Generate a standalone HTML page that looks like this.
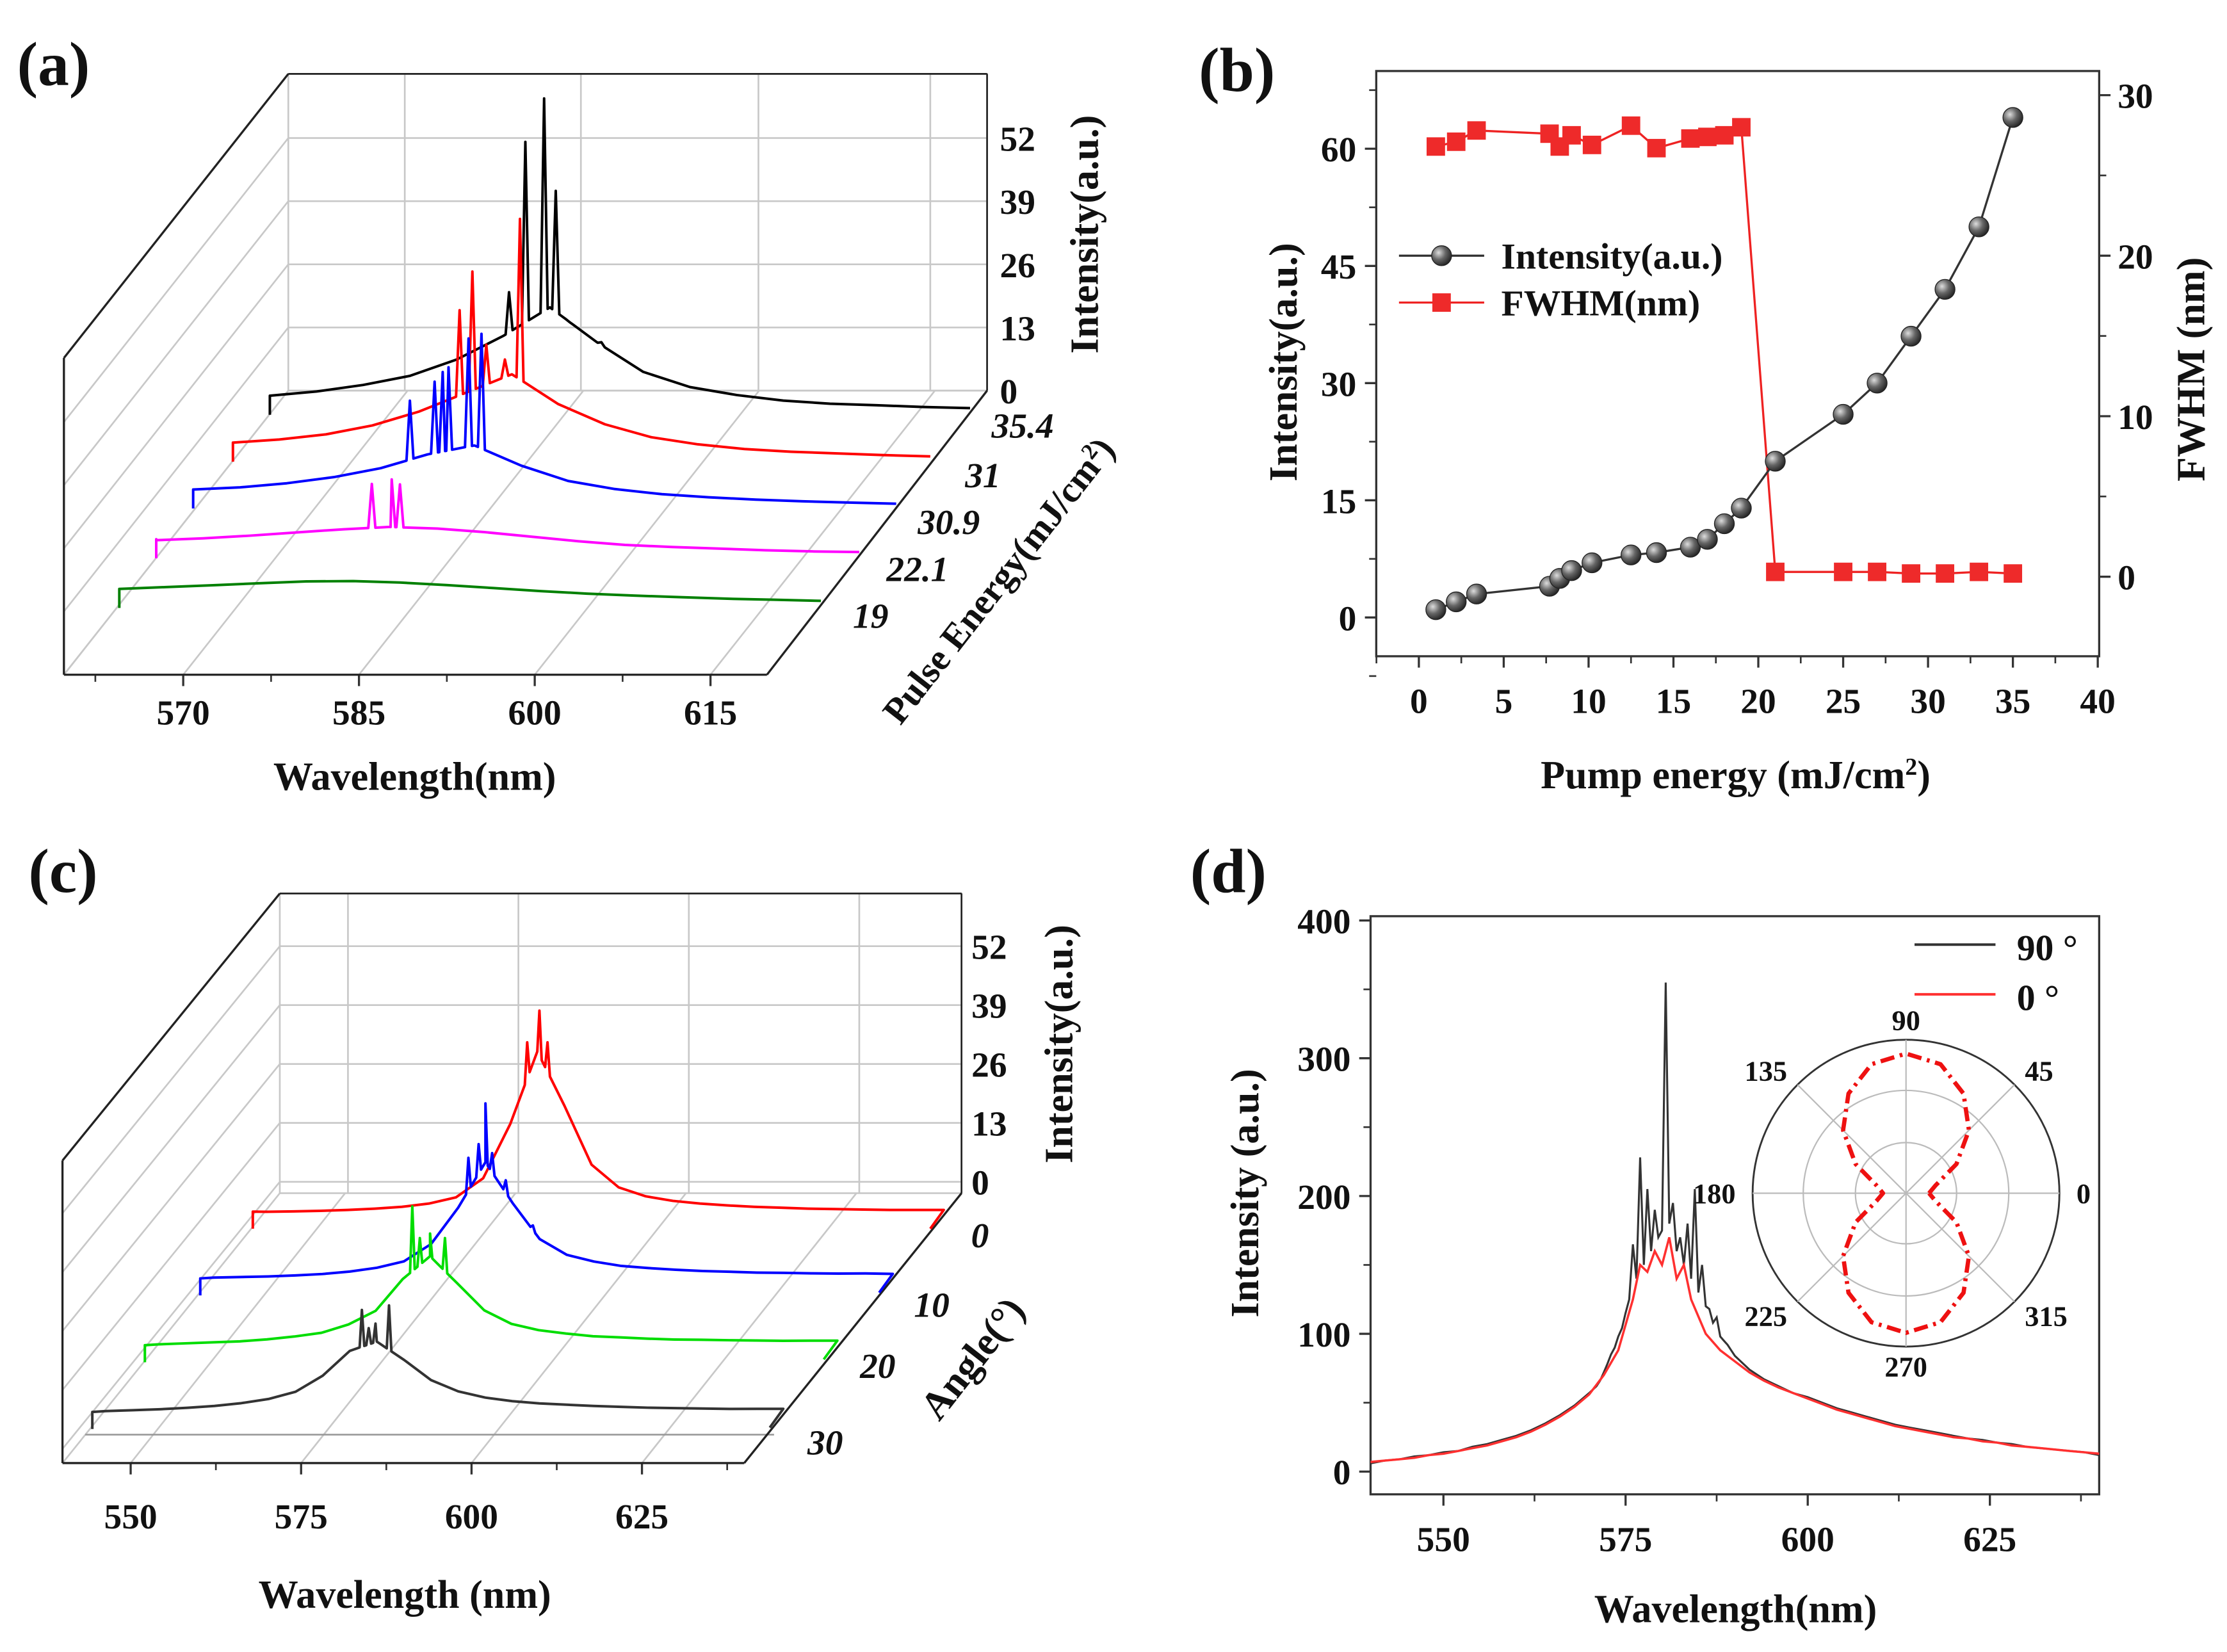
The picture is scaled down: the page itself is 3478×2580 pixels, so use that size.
<!DOCTYPE html>
<html><head><meta charset="utf-8"><style>
html,body{margin:0;padding:0;background:#fff}
svg{display:block}
text{font-family:"Liberation Serif",serif;font-weight:bold;fill:#111}
</style></head><body>
<svg id="fig" xmlns="http://www.w3.org/2000/svg" width="3478" height="2580" viewBox="0 0 1568 1163" preserveAspectRatio="none">
<defs>
<radialGradient id="ball" cx="0.35" cy="0.35" r="0.7"><stop offset="0" stop-color="#ddd"/><stop offset="0.5" stop-color="#666"/><stop offset="1" stop-color="#222"/></radialGradient>
</defs>
<rect x="0" y="0" width="1568" height="1163" fill="#fff"/>
<text x="12" y="60" font-size="44">(a)</text>
<text x="844" y="64" font-size="44">(b)</text>
<text x="20" y="628" font-size="44">(c)</text>
<text x="838" y="628" font-size="44">(d)</text>
<g id="pa"></g>
<g id="pb"></g>
<g id="pc"></g>
<g id="pd"></g>
</svg>
<script>
// ---------- Panel (a) data ----------
const aGridW=[560,564,568,572,576,580,584,588,592,596,600,604,608,612,616,620];
const aEnergyLabels=["35.4","31","30.9","22.1","19"];
const aEnvBlack=[1,2,3.5,5.5,9,14,20,13,7,4,2.5,1.5,1,0.8,0.6,0.5];
const aEnvRed=[1,1.8,3,5,8,12,16,10,6,3.5,2.2,1.4,1,0.8,0.6,0.5];
const aEnvBlue=[1,1.6,2.6,4,6,9,11,7,4,2.5,1.6,1.1,0.8,0.6,0.5,0.4];
const aEnvMag=[0.8,1.3,2,2.8,3.6,4.2,4,3.4,2.6,1.8,1.2,0.9,0.7,0.5,0.4,0.4];
const aEnvGreen=[1,1.5,2,2.5,3,3.2,3,2.6,2.1,1.6,1.2,0.9,0.7,0.5,0.4,0.3];
const aSpkBlackW=[580.5,581.9,583.5,584.5,585.7,588.4];
const aSpkBlackI=[23,54,63,44,17,13];
const aSpkRedW=[579.5,580.6,581.8,583.4,584.7];
const aSpkRedI=[29,37,22,19,48];
const aSpkBlueW=[578.5,580.6,581.3,581.8,583.5,584.6];
const aSpkBlueI=[20,24,26,27,33,34];
const aSpkMagW=[578.4,580.1,580.8];
const aSpkMagI=[13,14,13];
const aZTicks=[0,13,26,39,52];
const aXTicks=[570,585,600,615];
// ---------- Panel (b) data ----------
const bIntX=[1,2.2,3.4,7.7,8.3,9,10.2,12.5,14,16,17,18,19,21,25,27,29,31,33,35];
const bIntY=[1,2,3,4,5,6,7,8,8.3,9,10,12,14,20,26,30,36,42,50,64];
const bFwX=[1,2.2,3.4,7.7,8.3,9,10.2,12.5,14,16,17,18,19,21,25,27,29,31,33,35];
const bFwY=[26.8,27.1,27.8,27.6,26.8,27.5,26.9,28.1,26.7,27.3,27.4,27.5,28.0,0.3,0.3,0.3,0.2,0.2,0.3,0.2];
const bXTicks=[0,5,10,15,20,25,30,35,40];
const bLTicks=[0,15,30,45,60];
const bRTicks=[0,10,20,30];
// ---------- Panel (c) data ----------
const cGridW=[542,546,550,554,558,562,566,570,574,578,582,586,590,594,598,602,606,610,614,618,622,626,630,634,638,642];
const cAngleLabels=["0","10","20","30"];
const cEnvRed=[0.6,0.7,0.8,1,1.3,1.7,2.4,3.8,8,20,36,24,11,6,4,3,2.4,2,1.7,1.5,1.3,1.2,1.1,1,1,1];
const cEnvBlue=[0.8,0.9,1,1.2,1.5,2,2.8,4.2,8,16,26,17,9,5.5,4,3,2.5,2.1,1.8,1.6,1.4,1.3,1.2,1.1,1.1,1];
const cEnvGreen=[0.8,1,1.2,1.4,1.8,2.4,3.2,5,8,15,20,14,8,5,3.6,2.8,2.2,1.9,1.6,1.4,1.3,1.2,1.1,1,1,1];
const cEnvBlack=[0.8,1,1.2,1.5,1.9,2.5,3.4,5,8.5,14,16,12,7.5,5,3.6,2.8,2.3,2,1.7,1.5,1.3,1.2,1.1,1,1,1];
const cSpkRedW=[580.5,582.3,583.5];
const cSpkRedI=[38,45,38];
const cSpkBlueW=[579.5,581,582,583,585,589];
const cSpkBlueI=[27,30,39,28,22,12];
const cSpkGreenW=[579.4,580.5,582,584.2];
const cSpkGreenI=[31,24,25,24];
const cSpkBlackW=[579.8,580.8,581.8,583.8];
const cSpkBlackI=[23,19,20,24];
const cZTicks=[0,13,26,39,52];
const cXTicks=[550,575,600,625];
// ---------- Panel (d) data ----------
const dRedW=[540,542,544,546,548,550,552,554,556,558,560,562,564,566,568,570,572,574,576,577,578,579,580,581,582,583,584,586,588,590,592,594,596,598,600,602,604,606,608,610,612,614,616,618,620,622,624,626,628,630,632,634,636,638,640];
const dRedI=[7,8,9,10,12,13,15,17,19,22,25,29,34,40,47,56,70,88,125,150,145,160,150,170,140,150,125,100,88,80,72,66,61,57,53,49,45,42,39,36,33,31,29,27,25,24,22,21,19,18,17,16,15,14,13];
const dBlkW=[540,542,544,546,548,550,552,554,556,558,560,562,564,566,568,570,571,571.5,572,572.5,573,573.5,574,574.5,575,575.5,576,576.5,577,577.5,578,578.5,579,579.5,580,580.5,581,581.5,582,582.5,583,583.5,584,584.5,585,585.5,586,586.5,587,587.5,588,588.5,589,589.5,590,592,594,596,598,600,602,604,606,608,610,612,614,616,618,620,622,624,626,628,630,632,634,636,638,640];
const dBlkI=[6,8,9,11,12,14,15,18,20,23,26,30,35,41,48,57,62,66,72,78,85,90,98,104,115,125,165,140,228,150,205,160,190,170,175,355,180,195,160,170,150,180,140,205,130,150,120,118,108,112,98,95,92,88,84,74,67,62,57,54,50,46,43,40,37,34,32,30,28,26,24,23,21,20,18,17,16,15,14,12];
const dXTicks=[550,575,600,625];
const dYTicks=[0,100,200,300,400];
const dPolarAng=[0,15,30,45,60,75,90,105,120,135,150,165,180,195,210,225,240,255,270,285,300,315,330,345,360];
const dPolarR=[0.15,0.2,0.38,0.58,0.75,0.87,0.91,0.87,0.75,0.58,0.38,0.2,0.15,0.2,0.38,0.58,0.75,0.87,0.91,0.87,0.75,0.58,0.38,0.2,0.15];
const dPolarLabels=[0,45,90,135,180,225,270,315];

const NS="http://www.w3.org/2000/svg";
const TK=25, TT=28;
function mk(tag,attrs,parent,name){
  const el=document.createElementNS(NS,tag);
  for(const k in attrs) el.setAttribute(k,attrs[k]);
  
  
  parent.appendChild(el);
  return el;
}
function txt(s,x,y,size,parent,name,anchor,extra){
  const a=Object.assign({x:x,y:y,'font-size':size,'text-anchor':anchor||'start'},extra||{});
  const t=mk('text',a,parent,name);
  t.textContent=s;
  return t;
}
function line(x1,y1,x2,y2,stroke,w,parent,name){
  return mk('line',{x1:x1,y1:y1,x2:x2,y2:y2,stroke:stroke,'stroke-width':w},parent,name);
}
function interp(gw,gv,w){
  if(w<=gw[0])return gv[0];
  for(let i=1;i<gw.length;i++){ if(w<=gw[i]){const t=(w-gw[i-1])/(gw[i]-gw[i-1]);return gv[i-1]+t*(gv[i]-gv[i-1]);} }
  return gv[gv.length-1];
}
function tracePts(gw,env,sw,si,half){
  let pts=gw.map((w,i)=>[w,env[i]]);
  for(let i=0;i<sw.length;i++){
    pts.push([sw[i]-half,interp(gw,env,sw[i]-half)]);
    pts.push([sw[i],si[i]]);
    pts.push([sw[i]+half,interp(gw,env,sw[i]+half)]);
  }
  pts.sort((a,b)=>a[0]-b[0]);
  return pts;
}

// ================= Panel (a) =================
(function(){
  const g=document.getElementById('pa');
  const G='#c8c8c8';
  mk('rect',{x:203,y:52,width:492,height:223,fill:'none',stroke:G,'stroke-width':1.2},g,'back-wall');
  const zy=v=>275-v*3.42;
  aZTicks.forEach(v=>{
    line(203,zy(v),695,zy(v),G,1.2,g,'back-gridline');
    line(203,zy(v),45,zy(v)+200,G,1.2,g,'side-gridline');
    txt(String(v),704,zy(v)+9,TK,g,'z-tick-label');
  });
  [285,409,534,655].forEach(x=>line(x,52,x,275,G,1.2,g,'back-vertical-gridline'));
  const fx=w=>129+(w-570)*8.25;
  aXTicks.forEach(w=>{
    line(fx(w),475,fx(w)+158,275,G,1.2,g,'floor-gridline');
    line(fx(w),475,fx(w),483,'#333',1.5,g,'x-tick');
    txt(String(w),fx(w),510,TK,g,'x-tick-label','middle');
  });
  [577.5,592.5,607.5,562.5].forEach(w=>line(fx(w),475,fx(w),480,'#333',1.2,g,'x-minor-tick'));
  line(45,475,203,275,G,1.2,g,'floor-left-edge');
  line(203,52,45,252,'#222',1.5,g,'wall-top-edge');
  line(45,252,45,475,'#222',1.5,g,'front-left-edge');
  line(45,475,540,475,'#222',1.5,g,'front-bottom-axis');
  line(540,475,695,275,'#222',1.5,g,'depth-axis');
  line(203,52,695,52,'#222',1.2,g,'back-top-edge');
  line(695,52,695,275,'#222',1.2,g,'z-axis-line');
  const traces=[
    {x0:190,y0:282,x1:683,y1:289,env:aEnvBlack,sw:aSpkBlackW,si:aSpkBlackI,c:'#000',n:'trace-35-4'},
    {x0:164,y0:315,x1:655,y1:323,env:aEnvRed,sw:aSpkRedW,si:aSpkRedI,c:'#ff0000',n:'trace-31'},
    {x0:136,y0:348,x1:631,y1:356,env:aEnvBlue,sw:aSpkBlueW,si:aSpkBlueI,c:'#0000ff',n:'trace-30-9'},
    {x0:110,y0:383,x1:605,y1:390,env:aEnvMag,sw:aSpkMagW,si:aSpkMagI,c:'#ff00ff',n:'trace-22-1'},
    {x0:84,y0:418,x1:578,y1:424,env:aEnvGreen,sw:[],si:[],c:'#008000',n:'trace-19'}
  ];
  traces.forEach(t=>{
    const pts=tracePts(aGridW,t.env,t.sw,t.si,0.3);
    const sx=(t.x1-t.x0)/60, sy=(t.y1-t.y0)/60;
    const d=pts.map((p,i)=>(i?'L':'M')+(t.x0+(p[0]-560)*sx).toFixed(1)+','+(t.y0+(p[0]-560)*sy-p[1]*3.42).toFixed(1)).join(' ');
    mk('path',{d:'M'+t.x0+','+(t.y0+10)+' L'+t.x0+','+(t.y0-3.4)+' '+d.replace(/^M/,'L'),fill:'none',stroke:t.c,'stroke-width':1.8,'stroke-linejoin':'round'},g,t.n);
  });
  const el=[[720,308],[692,343],[668,376],[646,409],[613,442]];
  aEnergyLabels.forEach((s,i)=>txt(s,el[i][0],el[i][1],TK,g,'energy-tick-label','middle',{'font-style':'italic'}));
  txt('Intensity(a.u.)',0,0,TT,g,'z-axis-title','middle',{transform:'translate(773,165) rotate(-90)'});
  txt('Wavelength(nm)',292,556,TT,g,'x-axis-title','middle');
  const pe=txt('Pulse Energy(mJ/cm',0,0,26,g,'depth-axis-title','middle',{transform:'translate(710,414) rotate(-52)'});
  const sup=document.createElementNS(NS,'tspan');sup.setAttribute('baseline-shift','super');sup.setAttribute('font-size','16');sup.textContent='2';pe.appendChild(sup);
  const cl=document.createElementNS(NS,'tspan');cl.textContent=')';pe.appendChild(cl);
})();

// ================= Panel (b) =================
(function(){
  const g=document.getElementById('pb');
  const bx=v=>999+v*11.95, byL=v=>434.7-v*5.5, byR=v=>406-v*11.3;
  mk('rect',{x:969,y:50,width:509,height:412,fill:'none',stroke:'#333','stroke-width':1.5},g,'plot-frame');
  bXTicks.forEach(v=>{line(bx(v),462,bx(v),470,'#333',1.5,g,'x-tick');txt(String(v),bx(v),502,TK,g,'x-tick-label','middle');});
  for(let v=-2.5;v<=40;v+=5){line(bx(v),462,bx(v),467,'#333',1.2,g,'x-minor-tick');}
  bLTicks.forEach(v=>{line(961,byL(v),969,byL(v),'#333',1.5,g,'y-left-tick');txt(String(v),955,byL(v)+9,TK,g,'y-left-tick-label','end');});
  for(let v=-7.5;v<=67.5;v+=15){line(964,byL(v),969,byL(v),'#333',1.2,g,'y-left-minor-tick');}
  bRTicks.forEach(v=>{line(1478,byR(v),1486,byR(v),'#333',1.5,g,'y-right-tick');txt(String(v),1491,byR(v)+9,TK,g,'y-right-tick-label','start');});
  for(let v=-5;v<=35;v+=10){if(byR(v)>50&&byR(v)<462)line(1478,byR(v),1483,byR(v),'#333',1.2,g,'y-right-minor-tick');}
  mk('polyline',{points:bFwX.map((x,i)=>bx(x)+','+byR(bFwY[i])).join(' '),fill:'none',stroke:'#ee2222','stroke-width':1.5},g,'fwhm-line');
  bFwX.forEach((x,i)=>mk('rect',{x:bx(x)-6.5,y:byR(bFwY[i])-6.5,width:13,height:13,fill:'#ee2a2a'},g,'fwhm-marker'));
  mk('polyline',{points:bIntX.map((x,i)=>bx(x)+','+byL(bIntY[i])).join(' '),fill:'none',stroke:'#333','stroke-width':1.5},g,'intensity-line');
  bIntX.forEach((x,i)=>mk('circle',{cx:bx(x),cy:byL(bIntY[i]),r:7,fill:'url(#ball)',stroke:'#222','stroke-width':0.6},g,'intensity-marker'));
  line(985,180,1045,180,'#333',1.5,g,'legend-intensity-line');
  mk('circle',{cx:1015,cy:180,r:7,fill:'url(#ball)',stroke:'#222','stroke-width':0.6},g,'legend-intensity-marker');
  txt('Intensity(a.u.)',1057,189,26,g,'legend-intensity-label');
  line(985,213,1045,213,'#ee2222',1.5,g,'legend-fwhm-line');
  mk('rect',{x:1008.5,y:206.5,width:13,height:13,fill:'#ee2a2a'},g,'legend-fwhm-marker');
  txt('FWHM(nm)',1057,222,26,g,'legend-fwhm-label');
  txt('Intensity(a.u.)',0,0,TT,g,'y-left-title','middle',{transform:'translate(913,255) rotate(-90)'});
  txt('FWHM (nm)',0,0,TT,g,'y-right-title','middle',{transform:'translate(1552,260) rotate(-90)'});
  const t=txt('Pump energy (mJ/cm',1222,555,TT,g,'x-axis-title','middle');
  const s=document.createElementNS(NS,'tspan');s.setAttribute('baseline-shift','super');s.setAttribute('font-size','17');s.textContent='2';t.appendChild(s);
  const c=document.createElementNS(NS,'tspan');c.textContent=')';t.appendChild(c);
})();

// ================= Panel (c) =================
(function(){
  const g=document.getElementById('pc');
  const G='#c8c8c8';
  const zy=v=>832-v*3.19;
  mk('rect',{x:197,y:629,width:480,height:211,fill:'none',stroke:G,'stroke-width':1.2},g,'back-wall');
  cZTicks.forEach(v=>{
    line(197,zy(v),677,zy(v),G,1.2,g,'back-gridline');
    line(197,zy(v),44,zy(v)+188,G,1.2,g,'side-gridline');
    txt(String(v),684,zy(v)+9,TK,g,'z-tick-label');
  });
  [245,365,485,605].forEach(x=>line(x,629,x,840,G,1.2,g,'back-vertical-gridline'));
  const fx=w=>92+(w-550)*4.8;
  cXTicks.forEach(w=>{
    line(fx(w),1030,fx(w)+151,840,G,1.2,g,'floor-gridline');
    line(fx(w),1030,fx(w),1038,'#333',1.5,g,'x-tick');
    txt(String(w),fx(w),1076,TK,g,'x-tick-label','middle');
  });
  [562.5,587.5,612.5,637.5].forEach(w=>line(fx(w),1030,fx(w),1035,'#333',1.2,g,'x-minor-tick'));
  line(44,1030,197,840,G,1.2,g,'floor-left-edge');
  line(60,1010,545,1010,'#999',1.2,g,'floor-front-line');
  line(197,629,44,817,'#222',1.5,g,'wall-top-edge');
  line(44,817,44,1030,'#222',1.5,g,'front-left-edge');
  line(44,1030,524,1030,'#222',1.5,g,'front-bottom-axis');
  line(524,1030,677,840,'#222',1.5,g,'depth-axis');
  line(197,629,677,629,'#222',1.2,g,'back-top-edge');
  line(677,629,677,840,'#222',1.2,g,'z-axis-line');
  const traces=[
    {x0:178,y0:855,x1:655,y1:855,env:cEnvRed,sw:cSpkRedW,si:cSpkRedI,c:'#ff0000',n:'trace-0deg'},
    {x0:141,y0:902,x1:619,y1:900,env:cEnvBlue,sw:cSpkBlueW,si:cSpkBlueI,c:'#0000ff',n:'trace-10deg'},
    {x0:102,y0:949,x1:580,y1:947,env:cEnvGreen,sw:cSpkGreenW,si:cSpkGreenI,c:'#00dd00',n:'trace-20deg'},
    {x0:65,y0:996,x1:542,y1:995,env:cEnvBlack,sw:cSpkBlackW,si:cSpkBlackI,c:'#333',n:'trace-30deg'}
  ];
  traces.forEach(t=>{
    const pts=tracePts(cGridW,t.env,t.sw,t.si,0.35);
    const sx=(t.x1-t.x0)/100, sy=(t.y1-t.y0)/100;
    const d=pts.map((p,i)=>(i?'L':'M')+(t.x0+(p[0]-540)*sx).toFixed(1)+','+(t.y0+(p[0]-540)*sy-p[1]*3.19).toFixed(1)).join(' ');
    mk('path',{d:'M'+t.x0+','+(t.y0+10)+' L'+t.x0+','+(t.y0-2)+' '+d.replace(/^M/,'L')+' L'+t.x1+','+(t.y1+10),fill:'none',stroke:t.c,'stroke-width':1.8,'stroke-linejoin':'round'},g,t.n);
  });
  const al=[[690,878],[656,927],[618,970],[581,1024]];
  cAngleLabels.forEach((s,i)=>txt(s,al[i][0],al[i][1],TK,g,'angle-tick-label','middle',{'font-style':'italic'}));
  txt('Intensity(a.u.)',0,0,TT,g,'z-axis-title','middle',{transform:'translate(755,735) rotate(-90)'});
  txt('Wavelength (nm)',285,1132,TT,g,'x-axis-title','middle');
  txt('Angle(°)',0,0,TT,g,'depth-axis-title','middle',{transform:'translate(692,962) rotate(-52)'});
})();

// ================= Panel (d) =================
(function(){
  const g=document.getElementById('pd');
  const dx=w=>965+(w-540)*5.13, dy=v=>1036-v*0.97;
  mk('rect',{x:965,y:645,width:513,height:407,fill:'none',stroke:'#333','stroke-width':1.5},g,'plot-frame');
  dXTicks.forEach(w=>{line(dx(w),1052,dx(w),1060,'#333',1.5,g,'x-tick');txt(String(w),dx(w),1092,TK,g,'x-tick-label','middle');});
  [562.5,587.5,612.5,637.5].forEach(w=>line(dx(w),1052,dx(w),1057,'#333',1.2,g,'x-minor-tick'));
  dYTicks.forEach(v=>{line(957,dy(v),965,dy(v),'#333',1.5,g,'y-tick');txt(String(v),951,dy(v)+9,TK,g,'y-tick-label','end');});
  [50,150,250,350].forEach(v=>line(960,dy(v),965,dy(v),'#333',1.2,g,'y-minor-tick'));
  mk('polyline',{points:dBlkW.map((w,i)=>dx(w).toFixed(1)+','+dy(dBlkI[i]).toFixed(1)).join(' '),fill:'none',stroke:'#333','stroke-width':1.4},g,'series-90deg');
  mk('polyline',{points:dRedW.map((w,i)=>dx(w).toFixed(1)+','+dy(dRedI[i]).toFixed(1)).join(' '),fill:'none',stroke:'#ff3030','stroke-width':1.6},g,'series-0deg');
  line(1348,665,1405,665,'#333',1.8,g,'legend-90-line');
  txt('90 °',1420,676,26,g,'legend-90-label');
  line(1348,700,1405,700,'#ff3030',1.8,g,'legend-0-line');
  txt('0 °',1420,711,26,g,'legend-0-label');
  txt('Intensity (a.u.)',0,0,TT,g,'y-axis-title','middle',{transform:'translate(886,840) rotate(-90)'});
  txt('Wavelength(nm)',1222,1142,TT,g,'x-axis-title','middle');
  const cx=1342,cy=840,R=108;
  mk('circle',{cx:cx,cy:cy,r:R,fill:'#fff',stroke:'#333','stroke-width':1.3},g,'polar-outer-circle');
  [R*0.67,R*0.33].forEach(r=>mk('circle',{cx:cx,cy:cy,r:r,fill:'none',stroke:'#bbb','stroke-width':1},g,'polar-grid-circle'));
  dPolarLabels.forEach(a=>{
    const rad=a*Math.PI/180;
    line(cx,cy,cx+R*Math.cos(rad),cy-R*Math.sin(rad),'#bbb',1,g,'polar-spoke');
    const lx=cx+(R+16)*Math.cos(rad), ly=cy-(R+14)*Math.sin(rad);
    const anchor=Math.abs(Math.cos(rad))<0.1?'middle':(Math.cos(rad)>0?'start':'end');
    txt(String(a),lx+(anchor==='start'?-4:anchor==='end'?4:0),ly+7,20,g,'polar-angle-label',anchor);
  });
  const pp=dPolarAng.map((a,i)=>{const rad=a*Math.PI/180;return (cx+dPolarR[i]*R*Math.cos(rad)).toFixed(1)+','+(cy-dPolarR[i]*R*Math.sin(rad)).toFixed(1);}).join(' ');
  mk('polyline',{points:pp,fill:'none',stroke:'#ee1111','stroke-width':3,'stroke-dasharray':'10,4,2,4','stroke-linejoin':'round'},g,'polar-curve');
})();
</script>
</body></html>
